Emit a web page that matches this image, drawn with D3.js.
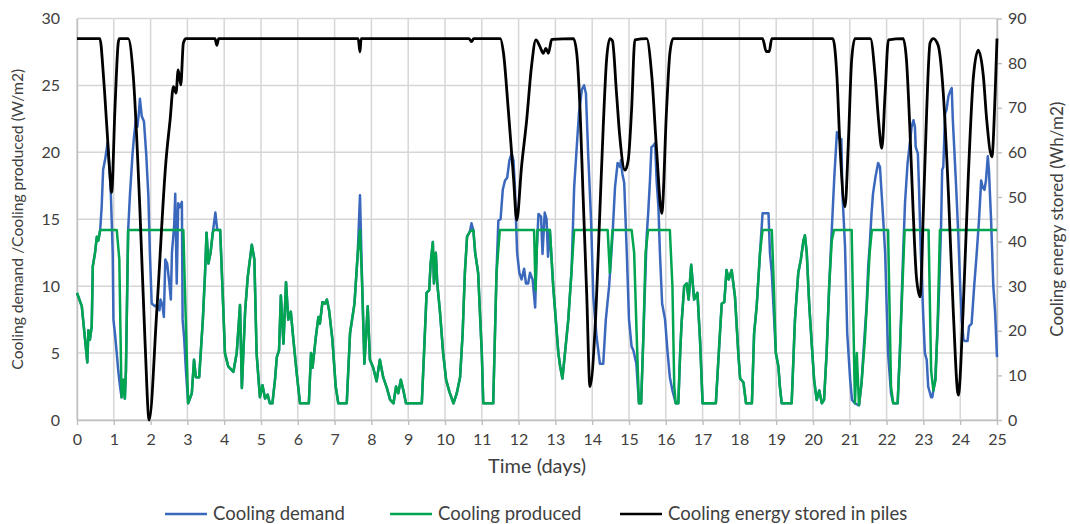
<!DOCTYPE html>
<html lang="en">
<head>
<meta charset="utf-8">
<title>cooling demand, production and storage</title>
<script src="https://d3js.org/d3.v7.min.js"></script>
<style>
  body { margin: 0; background: #fff; }
  text { font-family: Lato, "Liberation Sans", sans-serif; fill: #404040; }
  .grid line { stroke: #d6d6d6; stroke-width: 1.5; }
  .axis path, .axis line { stroke: #bfbfbf; stroke-width: 1.4; }
  .axis text { font-size: 16px; fill: #404040; }
  .legend text { font-size: 18.5px; }
</style>
</head>
<body>
<script>

// time (days) / value pairs
var demand = [
  [0.00,9.5],[0.13,8.5],[0.28,4.3],[0.31,6.7],[0.35,6.0],[0.40,7.0],[0.43,11.5],[0.49,12.5],[0.54,13.7],[0.58,13.4],[0.63,14.2],
  [0.67,15.9],[0.71,18.7],[0.76,19.4],[0.81,20.3],[0.83,20.7],[0.88,18.9],[0.92,16.9],[0.97,12.5],[0.99,7.5],[1.03,6.5],[1.08,5.0],[1.12,3.7],[1.17,2.5],[1.21,1.7],[1.26,3.0],[1.30,1.6],[1.33,3.7],[1.39,14.2],
  [1.44,16.9],[1.51,19.9],[1.55,21.2],[1.60,22.4],[1.64,21.9],[1.68,22.9],[1.71,24.0],[1.76,22.7],[1.82,22.3],[1.88,19.9],[1.94,16.7],[1.98,12.5],[2.03,8.7],[2.12,8.5],[2.18,8.6],[2.24,8.2],[2.27,9.0],[2.32,8.6],[2.36,7.7],[2.40,12.0],[2.45,11.7],[2.51,10.2],[2.55,9.0],[2.58,12.5],[2.64,14.5],[2.67,16.9],[2.71,10.2],[2.75,16.2],[2.80,15.9],[2.85,16.3],[2.87,7.5],[2.91,6.2],[2.96,3.7],[3.02,1.25],
  [3.12,2.0],[3.18,4.5],[3.23,3.2],[3.32,3.2],[3.42,7.5],[3.48,11.0],[3.52,14.0],[3.57,11.7],[3.63,12.5],[3.69,14.0],[3.76,15.5],[3.81,14.2],[3.89,14.2],
  [3.98,8.0],[4.02,5.0],[4.11,4.0],[4.25,3.6],[4.34,5.0],[4.43,8.6],[4.48,2.4],[4.57,8.2],[4.64,10.7],[4.75,13.1],[4.82,12.0],[4.88,5.0],[4.97,1.7],[5.04,2.6],[5.11,1.6],[5.18,1.9],[5.24,1.25],[5.31,1.25],[5.38,3.0],[5.43,4.7],[5.49,5.2],[5.54,9.3],[5.61,5.7],[5.68,10.3],[5.74,7.5],[5.81,8.1],[5.88,6.0],[5.97,3.5],[6.06,1.25],[6.30,1.25],[6.36,5.0],[6.40,3.9],[6.49,6.2],[6.56,7.7],[6.60,7.2],[6.67,8.8],[6.74,8.7],[6.79,9.0],[6.85,8.2],[6.94,6.0],[7.03,2.5],[7.10,1.25],[7.33,1.25],[7.42,6.5],[7.54,8.7],[7.63,12.5],
  [7.69,16.8],
  [7.75,10.0],[7.81,4.2],[7.90,8.5],[7.96,4.5],[8.05,3.9],[8.14,2.9],[8.23,4.5],[8.32,3.2],[8.42,2.4],[8.51,1.5],[8.60,1.25],[8.67,2.5],[8.73,2.0],[8.80,3.0],[8.87,2.2],[8.94,1.25],[9.37,1.25],[9.43,5.0],[9.50,9.5],[9.57,9.7],[9.61,11.7],[9.67,13.3],[9.70,10.2],[9.75,12.5],[9.79,10.2],[9.86,8.2],[9.95,5.0],[10.03,3.0],[10.12,2.1],[10.23,1.25],[10.32,2.0],[10.41,3.2],[10.48,6.5],[10.54,11.0],[10.60,13.7],[10.68,14.1],
  [10.72,14.7],
  [10.77,14.2],[10.82,12.5],[10.90,11.0],[11.00,5.0],[11.04,1.25],[11.31,1.25],[11.40,11.0],
  [11.45,14.9],[11.51,15.0],[11.57,17.2],[11.63,17.9],[11.69,18.1],[11.75,19.4],[11.81,19.9],[11.86,19.4],[11.90,17.4],[11.93,14.9],[11.96,12.5],[12.02,11.0],[12.08,10.5],[12.15,11.3],[12.20,10.2],[12.26,10.2],[12.31,11.0],[12.38,10.5],[12.45,8.4],[12.49,12.5],[12.54,15.4],[12.61,15.2],[12.65,12.4],[12.71,15.5],[12.76,15.0],[12.80,12.2],[12.85,14.2],
  [12.94,10.0],[13.01,7.5],[13.08,5.0],[13.13,4.0],[13.19,3.1],[13.26,5.0],[13.35,7.5],[13.44,11.2],
  [13.51,17.4],[13.58,20.4],[13.64,22.9],[13.72,24.7],[13.78,25.0],[13.83,24.4],[13.89,19.9],[13.97,14.9],[14.03,9.2],[14.08,7.5],[14.12,6.2],[14.21,4.2],[14.30,4.2],[14.37,7.5],[14.46,10.0],[14.55,13.7],[14.62,17.4],[14.69,19.2],[14.76,18.9],[14.78,19.4],[14.82,18.4],[14.87,17.7],[14.94,12.5],[15.00,7.5],[15.07,5.5],[15.12,5.2],[15.20,4.2],[15.27,1.25],[15.33,1.25],[15.39,6.2],
  [15.48,13.7],[15.52,15.4],[15.57,17.9],[15.61,20.4],[15.66,20.5],[15.71,20.7],[15.75,17.9],[15.80,15.9],[15.84,12.5],[15.90,8.7],[15.98,7.5],[16.05,5.0],[16.11,3.2],[16.18,2.2],[16.27,1.25],
  [16.34,1.25],[16.39,5.0],[16.43,7.3],[16.50,10.0],[16.57,10.2],[16.62,9.0],[16.69,11.6],[16.77,9.0],[16.86,9.5],[16.93,6.0],[17.00,1.25],[17.36,1.25],[17.45,5.5],[17.52,8.7],[17.59,8.8],[17.65,11.2],[17.71,10.5],[17.79,11.2],[17.88,9.2],[17.97,5.0],[18.02,3.1],[18.11,2.8],[18.18,1.25],[18.34,1.25],[18.40,6.5],[18.47,8.5],[18.56,12.5],
  [18.63,15.45],[18.79,15.45],[18.83,12.5],[18.88,11.0],[18.99,5.0],
  [19.06,4.0],[19.10,2.5],[19.15,1.25],[19.42,1.25],[19.51,7.5],[19.60,11.0],[19.67,12.0],[19.74,13.4],[19.78,13.8],[19.83,12.5],[19.90,8.5],[19.97,5.5],[20.03,3.0],[20.10,1.5],[20.17,2.2],[20.24,1.25],[20.30,1.5],[20.37,5.0],[20.44,10.0],[20.51,14.2],
  [20.58,18.2],[20.65,21.5],[20.72,21.0],[20.77,21.0],[20.80,16.9],[20.87,13.0],[20.93,6.5],[21.01,3.0],[21.06,1.5],[21.14,1.25],[21.25,1.1],[21.32,2.8],[21.37,5.0],[21.46,8.7],[21.50,11.5],[21.54,13.0],[21.59,15.4],[21.63,16.9],[21.70,18.2],[21.77,19.2],[21.82,18.9],[21.87,16.7],[21.91,14.9],[21.96,12.5],[22.00,8.7],[22.04,5.0],[22.12,2.0],[22.18,1.25],[22.30,1.25],[22.36,5.0],[22.45,12.5],[22.50,16.2],[22.57,19.2],[22.64,20.9],[22.68,21.9],[22.73,22.4],[22.77,21.9],[22.79,20.4],[22.85,19.9],[22.88,17.4],[22.93,12.5],[23.00,7.5],[23.04,5.0],[23.09,4.5],[23.13,2.5],[23.21,1.7],[23.24,1.7],[23.32,3.0],[23.39,7.0],[23.43,10.0],[23.48,14.5],[23.51,18.7],[23.54,18.9],[23.59,22.9],[23.63,23.2],[23.68,24.2],[23.72,24.5],[23.77,24.8],[23.80,22.4],[23.84,20.2],[23.89,17.4],[23.95,13.7],[24.00,10.0],[24.04,7.5],[24.09,6.0],[24.13,5.9],[24.20,5.9],[24.24,7.0],[24.31,7.2],[24.38,10.0],[24.45,12.5],[24.51,14.9],[24.57,17.9],[24.61,17.4],[24.66,17.2],[24.70,17.9],[24.75,19.7],[24.78,18.7],[24.84,14.9],[24.90,10.0],[24.95,8.0],[25.00,4.7]
];

var produced = [
  [0.00,9.5],[0.13,8.5],[0.28,4.3],[0.31,6.7],[0.35,6.0],[0.40,7.0],[0.43,11.5],[0.49,12.5],[0.54,13.7],[0.58,13.4],[0.63,14.2],[1.08,14.2],[1.15,12.0],[1.21,1.7],[1.26,3.0],[1.30,1.6],[1.33,3.7],[1.39,14.2],[2.89,14.2],[2.93,10.0],[3.02,1.25],
  [3.12,2.0],[3.18,4.5],[3.23,3.2],[3.32,3.2],[3.42,7.5],[3.48,11.0],[3.52,14.0],[3.57,11.7],[3.63,12.5],[3.69,14.0],[3.72,14.2],[3.89,14.2],
  [3.98,8.0],[4.02,5.0],[4.11,4.0],[4.25,3.6],[4.34,5.0],[4.43,8.6],[4.48,2.4],[4.57,8.2],[4.64,10.7],[4.75,13.1],[4.82,12.0],[4.88,5.0],[4.97,1.7],[5.04,2.6],[5.11,1.6],[5.18,1.9],[5.24,1.25],[5.31,1.25],[5.38,3.0],[5.43,4.7],[5.49,5.2],[5.54,9.3],[5.61,5.7],[5.68,10.3],[5.74,7.5],[5.81,8.1],[5.88,6.0],[5.97,3.5],[6.06,1.25],[6.30,1.25],[6.36,5.0],[6.40,3.9],[6.49,6.2],[6.56,7.7],[6.60,7.2],[6.67,8.8],[6.74,8.7],[6.79,9.0],[6.85,8.2],[6.94,6.0],[7.03,2.5],[7.10,1.25],[7.33,1.25],[7.42,6.5],[7.54,8.7],[7.63,12.5],
  [7.69,14.2],
  [7.75,10.0],[7.81,4.2],[7.90,8.5],[7.96,4.5],[8.05,3.9],[8.14,2.9],[8.23,4.5],[8.32,3.2],[8.42,2.4],[8.51,1.5],[8.60,1.25],[8.67,2.5],[8.73,2.0],[8.80,3.0],[8.87,2.2],[8.94,1.25],[9.37,1.25],[9.43,5.0],[9.50,9.5],[9.57,9.7],[9.61,11.7],[9.67,13.3],[9.70,10.2],[9.75,12.5],[9.79,10.2],[9.86,8.2],[9.95,5.0],[10.03,3.0],[10.12,2.1],[10.23,1.25],[10.32,2.0],[10.41,3.2],[10.48,6.5],[10.54,11.0],[10.60,13.7],[10.68,14.1],
  [10.77,14.2],[10.82,12.5],[10.90,11.0],[11.00,5.0],[11.04,1.25],[11.31,1.25],[11.40,11.0],[11.49,14.2],[12.42,14.2],[12.46,9.7],[12.51,14.2],[12.85,14.2],
  [12.94,10.0],[13.01,7.5],[13.08,5.0],[13.13,4.0],[13.19,3.1],[13.26,5.0],[13.35,7.5],[13.44,11.2],[13.51,14.2],[14.42,14.2],[14.48,11.0],[14.55,14.2],[15.07,14.2],[15.14,12.5],[15.21,6.2],[15.27,1.25],[15.33,1.25],[15.39,6.2],[15.45,12.5],[15.52,14.2],[16.11,14.2],[16.18,10.0],[16.23,2.5],[16.27,1.25],
  [16.34,1.25],[16.39,5.0],[16.43,7.3],[16.50,10.0],[16.57,10.2],[16.62,9.0],[16.69,11.6],[16.77,9.0],[16.86,9.5],[16.93,6.0],[17.00,1.25],[17.36,1.25],[17.45,5.5],[17.52,8.7],[17.59,8.8],[17.65,11.2],[17.71,10.5],[17.79,11.2],[17.88,9.2],[17.97,5.0],[18.02,3.1],[18.11,2.8],[18.18,1.25],[18.34,1.25],[18.40,6.5],[18.47,8.5],[18.56,12.5],
  [18.63,14.2],[18.88,14.2],[18.92,11.2],[18.99,5.0],
  [19.06,4.0],[19.10,2.5],[19.15,1.25],[19.42,1.25],[19.51,7.5],[19.60,11.0],[19.67,12.0],[19.74,13.4],[19.78,13.8],[19.83,12.5],[19.90,8.5],[19.97,5.5],[20.03,3.0],[20.10,1.5],[20.17,2.2],[20.24,1.25],[20.30,1.5],[20.37,5.0],[20.44,10.0],[20.51,13.4],
  [20.57,14.2],[21.05,14.2],[21.14,1.25],[21.19,5.0],[21.25,1.1],[21.32,2.8],[21.41,6.0],[21.50,10.5],[21.54,12.5],[21.60,14.2],[22.04,14.2],[22.12,2.5],[22.18,1.25],[22.30,1.25],[22.36,5.0],[22.43,10.0],[22.49,14.2],[23.14,14.2],[23.21,3.7],[23.27,2.2],[23.33,3.0],[23.39,7.5],[23.45,14.2],[25.00,14.2]
];

// stored energy, right axis (Wh/m2)
var stored = [
  [0.00,85.5],[0.62,85.5],[0.72,77],[0.81,65.8],[0.90,54.5],[0.94,51],[1.03,69.5],[1.12,84.5],[1.15,85.5],[1.39,85.5],[1.53,77],[1.71,47],[1.85,17.3],[1.96,0],[2.17,24.7],[2.42,58.3],[2.53,67.3],[2.62,74.7],[2.69,73.3],[2.75,78.5],[2.82,75.1],[2.89,84.5],[2.96,85.5],
  [3.75,85.5],[3.80,84],[3.85,85.5],[7.64,85.5],[7.69,82.5],[7.72,85.5],[10.65,85.5],[10.72,84.8],[10.78,85.5],
  [11.50,85.5],[11.59,82.2],[11.72,69.5],[11.86,54.5],[11.95,44.8],[12.08,56.8],[12.22,67.3],[12.35,79.2],[12.47,85.2],[12.58,83.7],[12.67,82.2],[12.74,83.3],[12.81,82.2],[12.90,85.3],
  [13.49,85.5],[13.58,82.2],[13.67,69.5],[13.75,50.8],[13.85,28.4],[13.94,7.5],[14.08,20.9],[14.21,47.1],[14.30,65.8],[14.39,80.7],[14.48,85.5],[14.55,85],[14.66,73.3],[14.75,63.5],[14.89,56],[14.98,58.3],[15.07,69.5],[15.16,85.2],
  [15.48,85.5],[15.62,77],[15.75,60.5],[15.89,46.3],[16.02,69.5],[16.11,82.2],[16.20,85.5],
  [18.63,85.5],[18.73,82.6],[18.81,82.6],[18.88,85.5],
  [20.54,85.5],[20.65,77],[20.73,62],[20.87,47.8],[20.96,62],[21.05,80.7],[21.14,85.5],[21.56,85.5],[21.69,77],[21.78,67.3],[21.87,60.9],[21.96,73.3],[22.05,85.2],
  [22.45,85.5],[22.54,80.7],[22.63,65.8],[22.72,47.1],[22.81,32.1],[22.91,27.6],[23.00,47.1],[23.09,69.5],[23.18,84.5],[23.27,85.5],[23.40,84],[23.54,73.3],[23.68,50.8],[23.81,24.7],[23.95,5.6],[24.08,24.7],[24.22,54.5],[24.36,77],[24.49,82.9],[24.63,77],[24.72,67.3],[24.86,59],[24.95,73.3],[25.00,85.5]
];

var xTicks = [0,1,2,3,4,5,6,7,8,9,10,11,12,13,14,15,16,17,18,19,20,21,22,23,24,25];
var leftTicks = [0,5,10,15,20,25,30];
var rightTicks = [0,10,20,30,40,50,60,70,80,90];
var seriesNames = ["Cooling demand", "Cooling produced", "Cooling energy stored in piles"];
var seriesColors = ["#3a68bd", "#00a54f", "#000000"];

var W = 1070, H = 524;
var plotL = 77, plotR = 997, plotT = 18.5, plotB = 420;

var svg = d3.select("body").append("svg")
            .attr("width", W)
            .attr("height", H);

var x = d3.scaleLinear().domain([0, 25]).range([plotL, plotR]);
var yL = d3.scaleLinear().domain([0, 30]).range([plotB, plotT]);
var yR = d3.scaleLinear().domain([0, 90]).range([plotB, plotT]);

// grid
var grid = svg.append("g").attr("class", "grid");
grid.selectAll(".h").data(leftTicks).enter().append("line")
    .attr("x1", plotL).attr("x2", plotR)
    .attr("y1", function(d){ return yL(d); }).attr("y2", function(d){ return yL(d); });
grid.selectAll(".v").data(xTicks).enter().append("line")
    .attr("y1", plotT).attr("y2", plotB)
    .attr("x1", function(d){ return x(d); }).attr("x2", function(d){ return x(d); });

// axes
svg.append("g").attr("class", "axis")
   .attr("transform", "translate(0," + plotB + ")")
   .call(d3.axisBottom(x).tickValues(xTicks).tickSize(5).tickSizeOuter(0).tickPadding(9));

svg.append("g").attr("class", "axis")
   .attr("transform", "translate(" + plotL + ",0)")
   .call(d3.axisLeft(yL).tickValues(leftTicks).tickSize(0).tickPadding(17));

svg.append("g").attr("class", "axis")
   .attr("transform", "translate(" + plotR + ",0)")
   .call(d3.axisRight(yR).tickValues(rightTicks).tickSize(5).tickSizeOuter(0).tickPadding(6));

// series
var lineL = d3.line().x(function(d){ return x(d[0]); }).y(function(d){ return yL(d[1]); });
var lineR = d3.line().curve(d3.curveMonotoneX)
              .x(function(d){ return x(d[0]); }).y(function(d){ return yR(d[1]); });

svg.append("path").datum(demand)
   .attr("d", lineL).attr("fill", "none")
   .attr("stroke", seriesColors[0]).attr("stroke-width", 2.5).attr("stroke-linejoin", "round");
svg.append("path").datum(produced)
   .attr("d", lineL).attr("fill", "none")
   .attr("stroke", seriesColors[1]).attr("stroke-width", 2.5).attr("stroke-linejoin", "round");
svg.append("path").datum(stored)
   .attr("d", lineR).attr("fill", "none")
   .attr("stroke", seriesColors[2]).attr("stroke-width", 2.8).attr("stroke-linejoin", "round");

// axis titles
svg.append("text")
   .attr("x", (plotL + plotR) / 2).attr("y", 473)
   .attr("text-anchor", "middle")
   .style("font-size", "20px")
   .text("Time (days)");

svg.append("text")
   .attr("transform", "translate(23," + ((plotT + plotB) / 2) + ") rotate(-90)")
   .attr("text-anchor", "middle")
   .style("font-size", "15.7px")
   .text("Cooling demand /Cooling produced (W/m2)");

svg.append("text")
   .attr("transform", "translate(1063," + ((plotT + plotB) / 2) + ") rotate(-90)")
   .attr("text-anchor", "middle")
   .style("font-size", "17px")
   .text("Cooling energy stored (Wh/m2)");

// legend
var legX = [165, 390, 620];
var legend = svg.append("g").attr("class", "legend");
var item = legend.selectAll("g").data(seriesNames).enter().append("g")
                 .attr("transform", function(d, i){ return "translate(" + legX[i] + ",514)"; });
item.append("line")
    .attr("x1", 0).attr("x2", 42).attr("y1", 0).attr("y2", 0)
    .attr("stroke", function(d, i){ return seriesColors[i]; })
    .attr("stroke-width", 2.6);
item.append("text")
    .attr("x", 48).attr("y", 6)
    .text(function(d){ return d; });

</script>
</body>
</html>
